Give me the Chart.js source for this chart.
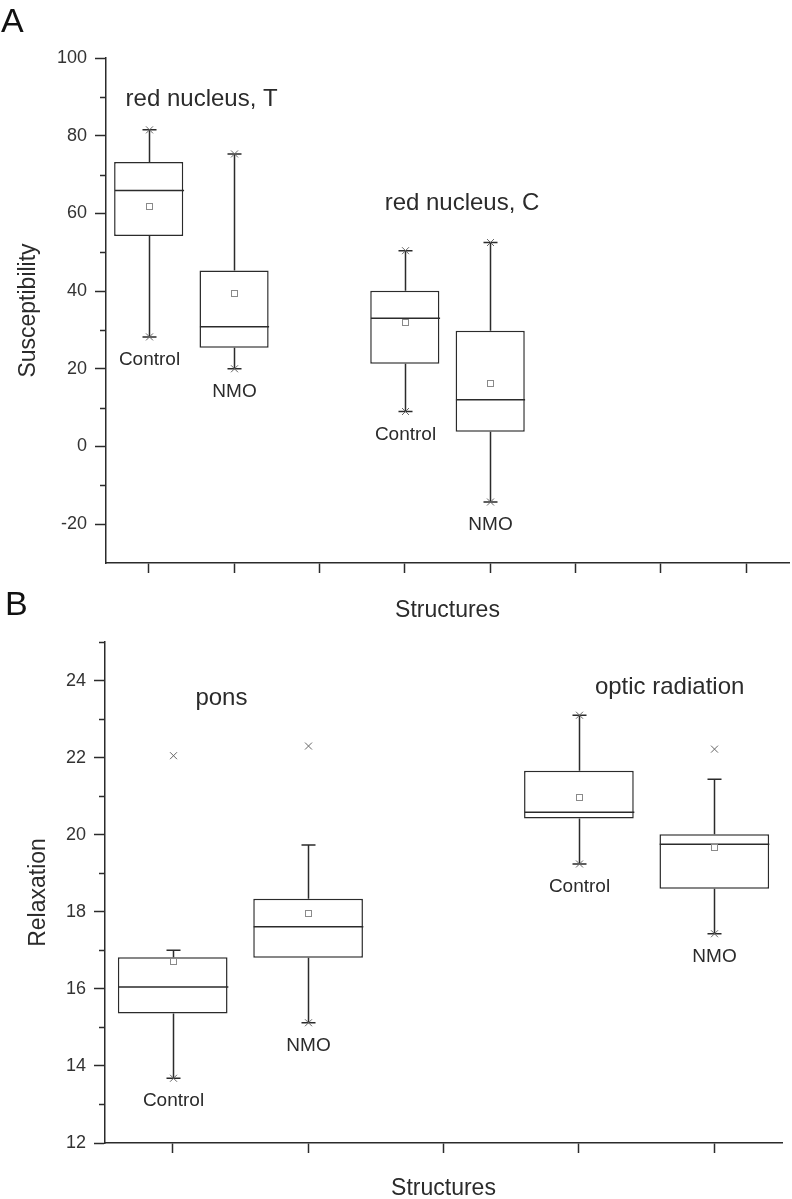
<!DOCTYPE html>
<html>
<head>
<meta charset="utf-8">
<script src="https://cdn.jsdelivr.net/npm/chart.js@4.4.1/dist/chart.umd.min.js"></script>
<style>
  html, body { margin: 0; padding: 0; background: #fff; overflow: hidden; }
  body { width: 792px; height: 1199px; position: relative; }
  .panel { position: absolute; left: 0; width: 792px; }
  #panelA { top: 0; height: 625px; }
  #panelB { top: 580px; height: 625px; }
</style>
</head>
<body>
<div class="panel" id="panelA"><canvas id="chartA"></canvas></div>
<div class="panel" id="panelB"><canvas id="chartB"></canvas></div>
<script>
// ---- Panel A: susceptibility ----
const categoriesA = ['red nucleus T Control', 'red nucleus T NMO', 'gap 1',
  'red nucleus C Control', 'red nucleus C NMO', 'gap 2', 'gap 3', 'gap 4'];
const boxLabelsA = ['Control', 'NMO', null, 'Control', 'NMO', null, null, null];
const q1A = [54.2, 25.4, null, 21.3, 3.8, null, null, null];
const q3A = [73.2, 45.3, null, 40.1, 29.8, null, null, null];
const medianA = [65.9, 30.8, null, 33.0, 12.0, null, null, null];
const meanA = [62.0, 39.6, null, 32.1, 16.4, null, null, null];
const whiskerLowA = [28.2, 20.0, null, 9.0, -14.3, null, null, null];
const whiskerHighA = [81.5, 75.3, null, 50.4, 52.5, null, null, null];
const minA = [28.2, 20.0, null, 9.0, -14.3, null, null, null];
const maxA = [81.5, 75.3, null, 50.4, 52.5, null, null, null];
const yTicksA = { min: -30, max: 100, step: 20 };
const minorTicksA = [-10, 10, 30, 50, 70, 90];
const groupTitlesA = ['red nucleus, T', 'red nucleus, C'];
const groupTitleXA = [0.62, 3.67];
const groupTitleYA = [89.4, 62.5];

// ---- Panel B: relaxation ----
const categoriesB = ['pons Control', 'pons NMO', 'gap', 'optic radiation Control', 'optic radiation NMO'];
const boxLabelsB = ['Control', 'NMO', null, 'Control', 'NMO'];
const q1B = [15.36, 16.81, null, 20.42, 18.60];
const q3B = [16.82, 18.34, null, 21.66, 20.01];
const medianB = [16.05, 17.61, null, 20.58, 19.75];
const meanB = [16.71, 17.98, null, 20.97, 19.68];
const whiskerLowB = [13.68, 15.12, null, 19.24, 17.43];
const whiskerHighB = [17.00, 19.73, null, 23.10, 21.44];
const minB = [13.68, 15.12, null, 19.24, 17.43];
const maxB = [22.05, 22.30, null, 23.10, 22.22];
const yTicksB = { min: 12, max: 25, step: 2 };
const minorTicksB = [13, 15, 17, 19, 21, 23, 25];
const groupTitlesB = ['pons', 'optic radiation'];
const groupTitleXB = [0.36, 3.67];
const groupTitleYB = [23.55, 23.83];

const FONT = '"Liberation Sans", Arial, sans-serif';
const INK = '#2b2b2b';

// whiskers, medians, means, 1%/99% crosses, labels and minor ticks
const boxExtras = {
  id: 'boxExtras',
  afterDatasetsDraw(chart, args, o) {
    const { ctx } = chart;
    const x = chart.scales.x, y = chart.scales.y;
    const meta = chart.getDatasetMeta(0);
    ctx.save();
    ctx.lineCap = 'butt';
    o.median.forEach((med, i) => {
      if (med == null) return;
      const bar = meta.data[i];
      const half = bar.getProps(['width'], true).width / 2;
      const cx = Math.round(x.getPixelForValue(i)) + 0.5;
      const yq1 = y.getPixelForValue(o.q1[i]);
      const yq3 = y.getPixelForValue(o.q3[i]);
      const yLo = y.getPixelForValue(o.low[i]);
      const yHi = y.getPixelForValue(o.high[i]);

      ctx.strokeStyle = INK;
      ctx.lineWidth = 1.5;
      ctx.beginPath();
      ctx.moveTo(cx, yq3); ctx.lineTo(cx, yHi);
      ctx.moveTo(cx, yq1); ctx.lineTo(cx, yLo);
      ctx.moveTo(cx - 7, yHi); ctx.lineTo(cx + 7, yHi);
      ctx.moveTo(cx - 7, yLo); ctx.lineTo(cx + 7, yLo);
      const ym = y.getPixelForValue(med);
      ctx.moveTo(cx - half, ym); ctx.lineTo(cx + half, ym);
      ctx.stroke();

      // mean
      ctx.strokeStyle = '#8a8a8a';
      ctx.lineWidth = 1;
      const ymean = y.getPixelForValue(o.mean[i]);
      ctx.strokeRect(cx - 3, Math.round(ymean) - 2.5, 6, 6);

      // min / max crosses
      ctx.strokeStyle = '#666';
      [o.min[i], o.max[i]].forEach(v => {
        const yy = y.getPixelForValue(v);
        ctx.beginPath();
        ctx.moveTo(cx - 3.5, yy - 3.5); ctx.lineTo(cx + 3.5, yy + 3.5);
        ctx.moveTo(cx + 3.5, yy - 3.5); ctx.lineTo(cx - 3.5, yy + 3.5);
        ctx.stroke();
      });

      // Control / NMO label under the lower whisker
      ctx.fillStyle = INK;
      ctx.font = '19px ' + FONT;
      ctx.textAlign = 'center';
      ctx.textBaseline = 'middle';
      ctx.fillText(o.labels[i], cx, yLo + 23);
    });

    // structure names
    ctx.font = '24px ' + FONT;
    ctx.fillStyle = INK;
    ctx.textAlign = 'center';
    ctx.textBaseline = 'middle';
    o.titles.forEach((t, k) => {
      ctx.fillText(t, x.getPixelForValue(o.titleX[k]), y.getPixelForValue(o.titleY[k]));
    });

    // minor ticks on the value axis
    ctx.strokeStyle = INK;
    ctx.lineWidth = 1.5;
    ctx.beginPath();
    o.minor.forEach(v => {
      const yy = Math.round(y.getPixelForValue(v)) + 0.5;
      ctx.moveTo(x.left - 6, yy); ctx.lineTo(x.left, yy);
    });
    ctx.stroke();

    // panel letter
    ctx.font = '34px ' + FONT;
    ctx.fillStyle = '#111';
    ctx.textAlign = 'left';
    ctx.textBaseline = 'alphabetic';
    ctx.fillText(o.letter, o.letterX, o.letterY);
    ctx.restore();
  }
};

function makeChart(canvasId, cfg) {
  const bars = cfg.q1.map((v, i) => v == null ? null : [v, cfg.q3[i]]);
  return new Chart(document.getElementById(canvasId), {
    type: 'bar',
    data: {
      labels: cfg.categories,
      datasets: [{
        data: bars,
        backgroundColor: '#ffffff',
        borderColor: INK,
        borderWidth: 1.5,
        borderSkipped: false,
        categoryPercentage: 0.9,
        barPercentage: 0.9
      }]
    },
    options: {
      responsive: true,
      maintainAspectRatio: false,
      animation: false,
      layout: { padding: { top: cfg.padTop, right: cfg.padRight, left: 0, bottom: 0 } },
      plugins: {
        legend: { display: false },
        tooltip: { enabled: false },
        boxExtras: {
          q1: cfg.q1, q3: cfg.q3, median: cfg.median, mean: cfg.mean,
          low: cfg.low, high: cfg.high, min: cfg.min, max: cfg.max,
          labels: cfg.labels, titles: cfg.titles, titleX: cfg.titleX, titleY: cfg.titleY,
          minor: cfg.minor, letter: cfg.letter, letterX: cfg.letterX, letterY: cfg.letterY
        }
      },
      scales: {
        x: {
          offset: true,
          grid: { offset: false, drawOnChartArea: false, drawTicks: true, tickLength: 10, tickWidth: 1.5, tickColor: INK },
          border: { display: true, color: INK, width: 1.5 },
          ticks: { display: false },
          title: { display: true, text: 'Structures', color: INK,
                   font: { family: FONT, size: 23 }, padding: { top: 0, bottom: cfg.xTitlePad } },
          afterFit(scale) { scale.height = cfg.xHeight; }
        },
        y: {
          min: cfg.yTicks.min,
          max: cfg.yTicks.max,
          grid: { drawOnChartArea: false, drawTicks: true, tickLength: 11, tickWidth: 1.5, tickColor: INK },
          border: { display: true, color: INK, width: 1.5 },
          ticks: { stepSize: cfg.yTicks.step, includeBounds: false, padding: 8, color: '#333',
                   font: { family: FONT, size: 18 } },
          title: { display: true, text: cfg.yTitle, color: INK,
                   font: { family: FONT, size: 23 }, padding: { top: cfg.yTitlePad, bottom: 0 } },
          afterFit(scale) { scale.width = cfg.yWidth; }
        }
      }
    },
    plugins: [boxExtras]
  });
}

makeChart('chartA', {
  categories: categoriesA, labels: boxLabelsA,
  q1: q1A, q3: q3A, median: medianA, mean: meanA,
  low: whiskerLowA, high: whiskerHighA, min: minA, max: maxA,
  yTicks: yTicksA, minor: minorTicksA,
  titles: groupTitlesA, titleX: groupTitleXA, titleY: groupTitleYA,
  yTitle: 'Susceptibility', letter: 'A', letterX: 1, letterY: 32,
  padTop: 58, padRight: 3, xHeight: 62, yWidth: 106, xTitlePad: 1, yTitlePad: 15
});

makeChart('chartB', {
  categories: categoriesB, labels: boxLabelsB,
  q1: q1B, q3: q3B, median: medianB, mean: meanB,
  low: whiskerLowB, high: whiskerHighB, min: minB, max: maxB,
  yTicks: yTicksB, minor: minorTicksB,
  titles: groupTitlesB, titleX: groupTitleXB, titleY: groupTitleYB,
  yTitle: 'Relaxation', letter: 'B', letterX: 5, letterY: 35,
  padTop: 62, padRight: 10, xHeight: 62, yWidth: 105, xTitlePad: 3, yTitlePad: 25
});
</script>
</body>
</html>
